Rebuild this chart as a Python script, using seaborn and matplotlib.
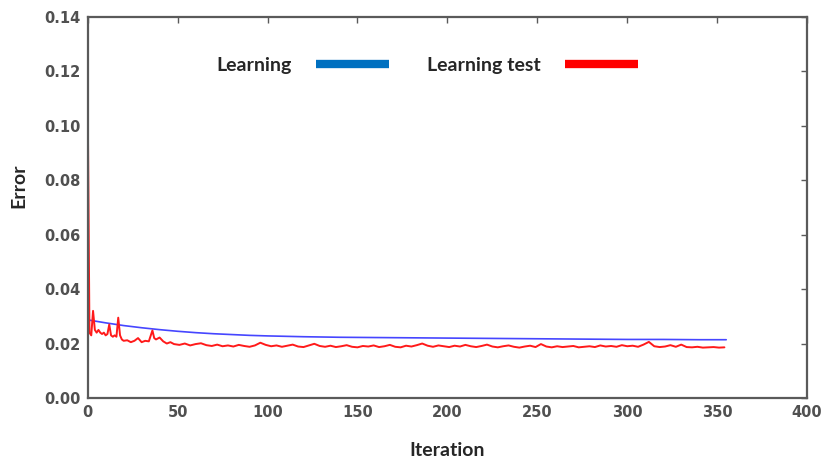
import matplotlib
matplotlib.use("Agg")
import matplotlib.pyplot as plt
from matplotlib.lines import Line2D
from matplotlib.ticker import FormatStrFormatter
import seaborn as sns

# training error (blue), sampled along the iterations
learn_iter = [0, 10, 20, 30, 40, 50, 60, 70, 80, 90, 100, 120, 140, 160, 180,
              200, 220, 240, 260, 280, 300, 320, 340, 355]
learn_err = [0.0287, 0.0276, 0.0266, 0.0258, 0.0251, 0.0245, 0.0240, 0.0236,
             0.0233, 0.0230, 0.0228, 0.0225, 0.0223, 0.0222, 0.0221,
             0.0220, 0.0219, 0.0218, 0.0217, 0.0216, 0.0215, 0.0215, 0.0214, 0.0214]

# test error (red)
test_iter = [0, 1, 2, 3, 4, 5, 6, 7, 8, 9, 10, 11, 12, 13, 14, 15, 16, 17, 18, 19,
             20, 22, 24, 26, 28, 30, 32, 34, 36, 37, 38, 40, 42, 44, 46, 48] + \
            list(range(51, 355, 3))
test_err = [0.112, 0.0240, 0.0230, 0.0320, 0.0250, 0.0240, 0.0250, 0.0240, 0.0235, 0.0240,
            0.0230, 0.0235, 0.0270, 0.0230, 0.0225, 0.0230, 0.0225, 0.0295, 0.0230, 0.0215,
            0.0210, 0.0212, 0.0205, 0.0210, 0.0220, 0.0205, 0.0210, 0.0208, 0.0248, 0.0220,
            0.0215, 0.0222, 0.0208, 0.0200, 0.0205, 0.0198,
            0.0195, 0.0200, 0.0193, 0.0198, 0.0201, 0.0194, 0.0191, 0.0196, 0.0190, 0.0193,
            0.0189, 0.0195, 0.0191, 0.0188, 0.0193, 0.0203, 0.0195, 0.0190, 0.0193, 0.0188,
            0.0192, 0.0196, 0.0189, 0.0187, 0.0193, 0.0199, 0.0191, 0.0188, 0.0192, 0.0187,
            0.0190, 0.0194, 0.0188, 0.0186, 0.0191, 0.0189, 0.0193, 0.0187, 0.0190, 0.0195,
            0.0188, 0.0186, 0.0192, 0.0189, 0.0194, 0.0200, 0.0192, 0.0188, 0.0193, 0.0190,
            0.0187, 0.0192, 0.0189, 0.0195, 0.0190, 0.0187, 0.0191, 0.0196, 0.0189, 0.0186,
            0.0190, 0.0193, 0.0188, 0.0185, 0.0189, 0.0192, 0.0187, 0.0198, 0.0189, 0.0186,
            0.0190, 0.0187, 0.0189, 0.0191, 0.0186, 0.0188, 0.0190, 0.0187, 0.0193, 0.0189,
            0.0191, 0.0188, 0.0194, 0.0190, 0.0192, 0.0188, 0.0196, 0.0206, 0.0190, 0.0187,
            0.0189, 0.0194, 0.0188, 0.0196, 0.0187, 0.0186, 0.0188, 0.0185, 0.0186, 0.0187,
            0.0185, 0.0186]

x_ticks = [0, 50, 100, 150, 200, 250, 300, 350, 400]
y_ticks = [0.00, 0.02, 0.04, 0.06, 0.08, 0.10, 0.12, 0.14]

sns.set_style("white")
spine_col = "#5a5a5a"

fig = plt.figure(figsize=(8.27, 4.59), dpi=100)
ax = fig.add_axes([0.106, 0.133, 0.87, 0.830])

sns.lineplot(x=learn_iter, y=learn_err, ax=ax, color="#4646ff", linewidth=1.2)
sns.lineplot(x=test_iter, y=test_err, ax=ax, color="#ff1a1a", linewidth=1.4)

ax.set_xlim(0, 400)
ax.set_ylim(0, 0.14)
ax.set_xticks(x_ticks)
ax.set_yticks(y_ticks)
ax.yaxis.set_major_formatter(FormatStrFormatter("%.2f"))

for s in ax.spines.values():
    s.set_color(spine_col)
    s.set_linewidth(1.6)
ax.tick_params(direction="in", length=4, width=1, color=spine_col,
               top=True, right=True, labelsize=10.5, labelcolor="#505050", pad=5)
for lab in ax.get_xticklabels() + ax.get_yticklabels():
    lab.set_fontweight("bold")

ax.set_xlabel("Iteration", fontsize=14, fontweight="bold", family="Lato")
ax.set_ylabel("Error", fontsize=14, fontweight="bold", family="Lato")
ax.xaxis.set_label_coords(0.50, -0.116)
ax.yaxis.set_label_coords(-0.084, 0.556)

handles = [Line2D([], [], color="#0070c0", linewidth=6, solid_capstyle="butt"),
           Line2D([], [], color="#ff0000", linewidth=6, solid_capstyle="butt")]
ax.legend(handles, ["Learning", "Learning test"], ncol=2, frameon=False,
          markerfirst=False, handlelength=3.75, handletextpad=1.25,
          columnspacing=1.95, loc="center", bbox_to_anchor=(0.472, 0.872),
          prop={"family": "Lato", "weight": "bold", "size": 14})

fig.savefig("out.png", dpi=100)
